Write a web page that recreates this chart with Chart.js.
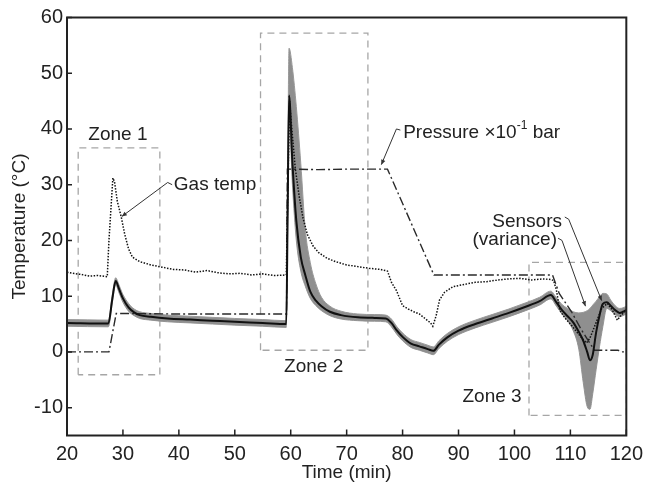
<!DOCTYPE html>
<html>
<head>
<meta charset="utf-8">
<script src="https://cdn.jsdelivr.net/npm/chart.js@4.4.0/dist/chart.umd.min.js"></script>
<style>
    html, body { margin: 0; padding: 0; background: #fff; }
</style>
</head>
<body>
<canvas id="grafico" width="650" height="485"></canvas>
<script>
//DATOS
const tiempoSensores = [20, 27.4, 28.1, 28.7, 29.3, 30, 31, 32, 33, 35, 38, 42, 46, 50, 55, 59.2, 59.45, 59.7, 60.3, 61, 61.8, 62.6, 63.5, 64.5, 65.5, 67, 69, 72, 75, 77, 78, 79, 80, 81.5, 83, 84.5, 85.5, 86.5, 88, 90, 93, 96, 99, 102, 104.5, 106.5, 107.5, 108.5, 109.5, 110.5, 111.5, 112.3, 113, 113.5, 114, 114.6, 115.2, 115.8, 116.5, 117.2, 118, 118.8, 119.4, 120];
const sensoresMedia = [5.2, 5.1, 9.5, 12.7, 11.3, 9.6, 8.0, 7.1, 6.6, 6.3, 6.0, 5.8, 5.6, 5.4, 5.2, 5.0, 25, 46, 34, 23.5, 17, 13.8, 10.8, 9.2, 8.2, 7.2, 6.6, 6.2, 6.1, 6.0, 5.2, 3.8, 2.7, 1.5, 1.0, 0.5, 0.2, 1.3, 2.6, 3.8, 5.0, 6.0, 7.0, 8.1, 9.1, 10.2, 8.9, 7.5, 6.4, 5.3, 3.6, 2.0, 0.0, -1.5, -0.5, 3.5, 6.5, 8.6, 8.9, 8.3, 7.5, 7.0, 7.2, 7.5];
const sensoresMin = [4.6, 4.5, 8.8, 12.0, 10.6, 8.9, 7.3, 6.5, 6.0, 5.7, 5.4, 5.2, 5.0, 4.8, 4.6, 4.4, 22, 42, 30, 20, 14.5, 11.8, 9.6, 8.3, 7.4, 6.5, 5.9, 5.6, 5.5, 5.4, 4.5, 3.1, 2.0, 0.8, 0.3, -0.2, -0.5, 0.6, 1.9, 3.1, 4.3, 5.3, 6.3, 7.4, 8.4, 9.5, 8.2, 6.8, 5.6, 3.8, 0.5, -5.5, -9.8, -10.3, -7.5, -3.2, 0.9, 4.5, 7.8, 7.4, 6.7, 6.3, 6.5, 6.8];
const sensoresMax = [5.8, 5.7, 10.2, 13.3, 12.0, 10.3, 8.7, 7.7, 7.2, 6.9, 6.6, 6.4, 6.2, 6.0, 5.8, 5.6, 32, 54.5, 51, 44, 33.8, 22, 16, 12.2, 9.8, 8.2, 7.3, 6.8, 6.7, 6.6, 5.9, 4.5, 3.4, 2.2, 1.7, 1.2, 0.9, 2.0, 3.3, 4.5, 5.7, 6.7, 7.7, 8.8, 9.8, 10.9, 9.7, 8.5, 7.8, 7.2, 7.0, 7.1, 7.4, 7.8, 8.4, 9.1, 9.9, 10.5, 10.4, 9.3, 8.3, 7.8, 7.9, 8.2];

const tiempoGas = [20, 21, 22.5, 24, 25.5, 27.2, 27.5, 28.2, 28.5, 29, 29.7, 30.3, 31, 31.7, 33, 35, 37, 39, 41, 43, 45, 47, 49, 51, 53, 55, 57, 59.2, 59.5, 59.8, 60.2, 60.8, 61.5, 62.2, 63, 64, 65, 66.5, 68, 70, 72, 74, 76, 77.3, 78, 78.9, 80, 81, 82, 83, 84, 85, 85.4, 86, 86.6, 87.5, 89, 91, 93, 95, 97, 99, 101, 103, 105, 106.5, 107, 107.5, 108.1, 109, 110, 111.3, 112.3, 112.9, 113.5, 114.5, 115.6, 116.6, 117.5, 118.4, 119, 120];
const gasTemp = [14.3, 14.1, 13.9, 13.6, 13.7, 13.5, 20, 31.2, 30.5, 27, 24.2, 21.2, 18.5, 17, 16.2, 15.6, 15.2, 14.8, 14.7, 14.3, 14.6, 14.2, 14.0, 14.1, 13.8, 14.0, 13.7, 13.8, 30, 45, 40, 33, 28, 24, 21, 19, 17.8, 16.8, 16.2, 15.6, 15.3, 15.0, 14.8, 14.5, 12.5, 11, 8.3, 7.7, 7.2, 6.8, 6.0, 5.2, 4.6, 6.5, 9.3, 10.7, 11.7, 12.1, 12.5, 12.6, 12.9, 13.1, 13.2, 12.9, 13.1, 13.0, 12.8, 11.1, 7.5, 6.1, 5.0, 3.4, 2.2, 1.6, 2.5, 5.0, 7.8, 8.7, 7.5, 5.7, 6.5, 7.5];

const tiempoPresion = [20, 27.5, 28.8, 40, 50, 59.25, 59.4, 65, 70, 77.3, 85.6, 95, 106.8, 108, 110.2, 112, 114.3, 118.5, 119.2, 120];
const presion = [0, 0, 6.9, 6.8, 6.8, 6.8, 32.8, 32.7, 32.8, 32.8, 13.8, 13.8, 13.8, 10.5, 7.2, 3.9, 0.3, 0.3, 0.0, 0.0];

const zonaNombres = ["Zone 1", "Zone 2", "Zone 3"];
const zonaInicio = [22, 54.6, 102.6];
const zonaFin = [36.6, 73.8, 120];
const zonaAbajo = [-4.1, 0.3, -11.4];
const zonaArriba = [36.6, 57.2, 16.05];

const ticksX = [20, 30, 40, 50, 60, 70, 80, 90, 100, 110, 120];
const ticksY = [-10, 0, 10, 20, 30, 40, 50, 60];

const fuente = '"Liberation Sans", Arial, sans-serif';
const colorTexto = "#222";
Chart.defaults.font.family = fuente;

function puntos(tiempos, valores) {
    return tiempos.map((t, i) => ({ x: t, y: valores[i] }));
}

function cajaZona(i) {
    return [
        { x: zonaInicio[i], y: zonaAbajo[i] },
        { x: zonaInicio[i], y: zonaArriba[i] },
        { x: zonaFin[i], y: zonaArriba[i] },
        { x: zonaFin[i], y: zonaAbajo[i] },
        { x: zonaInicio[i], y: zonaAbajo[i] }
    ];
}

//ANOTACIONES (texto, flechas, marco y marcas)
function flecha(ctx, x0, y0, x1, y1) {
    let ang = Math.atan2(y1 - y0, x1 - x0);
    ctx.beginPath();
    ctx.moveTo(x1, y1);
    ctx.lineTo(x1 - 5 * Math.cos(ang) + 2.2 * Math.sin(ang), y1 - 5 * Math.sin(ang) - 2.2 * Math.cos(ang));
    ctx.lineTo(x1 - 5 * Math.cos(ang) - 2.2 * Math.sin(ang), y1 - 5 * Math.sin(ang) + 2.2 * Math.cos(ang));
    ctx.closePath();
    ctx.fill();
}

function guia(ctx, x, y, pts) {
    let p = pts.map(([t, v]) => [x.getPixelForValue(t), y.getPixelForValue(v)]);
    ctx.beginPath();
    ctx.moveTo(p[0][0], p[0][1]);
    for (let i = 1; i < p.length; i++) ctx.lineTo(p[i][0], p[i][1]);
    ctx.stroke();
    let n = p.length;
    flecha(ctx, p[n - 2][0], p[n - 2][1], p[n - 1][0], p[n - 1][1]);
}

const anotaciones = {
    id: "anotaciones",
    afterDatasetsDraw(chart) {
        const { ctx, chartArea: a, scales: { x, y } } = chart;
        ctx.save();

        // marco
        ctx.strokeStyle = "#222";
        ctx.lineWidth = 2;
        ctx.strokeRect(a.left, a.top, a.right - a.left, a.bottom - a.top);

        // marcas hacia dentro
        ctx.lineWidth = 1.5;
        ctx.beginPath();
        ticksX.forEach(t => {
            let px = x.getPixelForValue(t);
            ctx.moveTo(px, a.bottom);
            ctx.lineTo(px, a.bottom - 6);
        });
        ticksY.forEach(v => {
            let py = y.getPixelForValue(v);
            ctx.moveTo(a.left, py);
            ctx.lineTo(a.left + 5, py);
        });
        ctx.stroke();

        // textos
        ctx.fillStyle = colorTexto;
        ctx.font = "19px " + fuente;
        ctx.textBaseline = "middle";
        ctx.textAlign = "center";
        ctx.fillText(zonaNombres[0], x.getPixelForValue(29.1), y.getPixelForValue(38.9));
        ctx.fillText(zonaNombres[1], x.getPixelForValue(64.1), y.getPixelForValue(-2.7));
        ctx.fillText(zonaNombres[2], x.getPixelForValue(96.0), y.getPixelForValue(-8.1));

        ctx.textAlign = "left";
        ctx.fillText("Gas temp", x.getPixelForValue(39.1), y.getPixelForValue(29.9));

        let px = x.getPixelForValue(80.1);
        let py = y.getPixelForValue(39.3);
        let parte1 = "Pressure \u00d710";
        ctx.fillText(parte1, px, py);
        px += ctx.measureText(parte1).width;
        ctx.font = "12px " + fuente;
        ctx.fillText("-1", px, py - 7);
        px += ctx.measureText("-1").width;
        ctx.font = "19px " + fuente;
        ctx.fillText(" bar", px, py);

        ctx.textAlign = "right";
        ctx.fillText("Sensors", x.getPixelForValue(108.5), y.getPixelForValue(23.4));
        ctx.fillText("(variance)", x.getPixelForValue(107.6), y.getPixelForValue(20.2));

        // lineas guia
        ctx.strokeStyle = "#333";
        ctx.fillStyle = "#333";
        ctx.lineWidth = 1;
        guia(ctx, x, y, [[38.8, 30.0], [38.0, 30.4], [29.8, 24.3]]);
        guia(ctx, x, y, [[79.6, 39.8], [78.9, 40.0], [76.2, 33.6]]);
        guia(ctx, x, y, [[109.0, 24.2], [109.7, 23.8], [115.6, 9.2]]);
        guia(ctx, x, y, [[107.8, 20.4], [108.5, 20.0], [112.7, 8.2]]);

        ctx.restore();
    }
};

//DATASETS
const datasets = [];
for (let i = 0; i < zonaNombres.length; i++) {
    datasets.push({
        label: zonaNombres[i],
        data: cajaZona(i),
        borderColor: "#a6a6a6",
        borderWidth: 1.3,
        borderDash: [7, 5],
        pointRadius: 0,
        fill: false,
        order: 10
    });
}
datasets.push({
    label: "Sensors min",
    data: puntos(tiempoSensores, sensoresMin),
    borderColor: "#999",
    borderWidth: 1,
    pointRadius: 0,
    cubicInterpolationMode: "monotone",
    fill: false,
    order: 4
});
datasets.push({
    label: "Sensors max",
    data: puntos(tiempoSensores, sensoresMax),
    borderColor: "#999",
    borderWidth: 1,
    backgroundColor: "#8f8f8f",
    pointRadius: 0,
    cubicInterpolationMode: "monotone",
    fill: "-1",
    order: 3
});
datasets.push({
    label: "Pressure",
    data: puntos(tiempoPresion, presion),
    borderColor: "#2a2a2a",
    borderWidth: 1.4,
    borderDash: [9, 3, 2, 3],
    pointRadius: 0,
    fill: false,
    order: 2
});
datasets.push({
    label: "Gas temp",
    data: puntos(tiempoGas, gasTemp),
    borderColor: "#111",
    borderWidth: 1.5,
    borderDash: [1.5, 1.5],
    pointRadius: 0,
    fill: false,
    order: 1
});
datasets.push({
    label: "Sensors",
    data: puntos(tiempoSensores, sensoresMedia),
    borderColor: "#111",
    borderWidth: 2,
    pointRadius: 0,
    cubicInterpolationMode: "monotone",
    fill: false,
    order: 0
});

//GRAFICO
const grafico = new Chart(document.getElementById("grafico"), {
    type: "line",
    data: { datasets: datasets },
    options: {
        responsive: false,
        animation: false,
        devicePixelRatio: 1,
        layout: { padding: { top: 17.5, right: 18, bottom: 0, left: 0 } },
        plugins: { legend: { display: false }, tooltip: { enabled: false } },
        scales: {
            x: {
                type: "linear",
                min: 20,
                max: 120,
                grid: { display: false, drawTicks: false },
                border: { display: false },
                afterBuildTicks: (s) => { s.ticks = ticksX.map(v => ({ value: v })); },
                afterFit: (s) => { s.height = 49.5; },
                ticks: { color: colorTexto, font: { size: 20 }, padding: 7, maxRotation: 0 },
                title: { display: true, text: "Time (min)", color: colorTexto, font: { size: 19 }, padding: { top: 0, bottom: 1 } }
            },
            y: {
                min: -15,
                max: 60,
                grid: { display: false, drawTicks: false },
                border: { display: false },
                afterBuildTicks: (s) => { s.ticks = ticksY.map(v => ({ value: v })); },
                afterFit: (s) => { s.width = 67; },
                ticks: { color: colorTexto, font: { size: 20 }, padding: 4 },
                title: { display: true, text: "Temperature (\u00b0C)", color: colorTexto, font: { size: 19 }, padding: { top: 8, bottom: 0 } }
            }
        }
    },
    plugins: [anotaciones]
});
</script>
</body>
</html>
